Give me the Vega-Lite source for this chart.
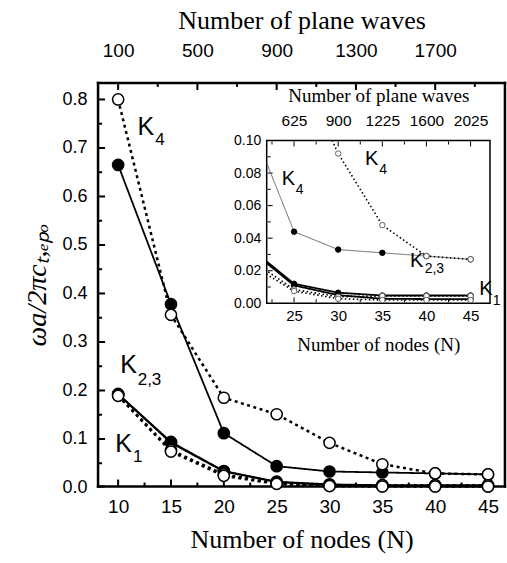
{
  "$schema": "https://vega.github.io/schema/vega-lite/v6.json",
  "width": 223.3,
  "height": 162.8,
  "autosize": "none",
  "padding": {"left": 266.7, "top": 140.5, "right": 17, "bottom": 259.7},
  "background": "white",
  "config": {
    "view": {"stroke": "black", "strokeWidth": 1.5},
    "axis": {"grid": false, "domain": false, "ticks": false, "labelFont": "Liberation Sans", "titleFont": "Liberation Serif", "titleFontWeight": "normal", "labelColor": "black", "titleColor": "black", "labelFlush": false, "labelOverlap": false}
  },
  "datasets": {
    "series": [
      {"branch": "K4", "method": "filled", "N": 10, "v": 0.665},
      {"branch": "K4", "method": "filled", "N": 15, "v": 0.378},
      {"branch": "K4", "method": "filled", "N": 20, "v": 0.112},
      {"branch": "K4", "method": "filled", "N": 25, "v": 0.044},
      {"branch": "K4", "method": "filled", "N": 30, "v": 0.033},
      {"branch": "K4", "method": "filled", "N": 35, "v": 0.031},
      {"branch": "K4", "method": "filled", "N": 40, "v": 0.029},
      {"branch": "K4", "method": "filled", "N": 45, "v": 0.027},
      {"branch": "K23", "method": "filled", "N": 10, "v": 0.193},
      {"branch": "K23", "method": "filled", "N": 15, "v": 0.094},
      {"branch": "K23", "method": "filled", "N": 20, "v": 0.034},
      {"branch": "K23", "method": "filled", "N": 25, "v": 0.012},
      {"branch": "K23", "method": "filled", "N": 30, "v": 0.0065},
      {"branch": "K23", "method": "filled", "N": 35, "v": 0.0048},
      {"branch": "K23", "method": "filled", "N": 40, "v": 0.0048},
      {"branch": "K23", "method": "filled", "N": 45, "v": 0.0048},
      {"branch": "K1", "method": "filled", "N": 10, "v": 0.192},
      {"branch": "K1", "method": "filled", "N": 15, "v": 0.092},
      {"branch": "K1", "method": "filled", "N": 20, "v": 0.033},
      {"branch": "K1", "method": "filled", "N": 25, "v": 0.011},
      {"branch": "K1", "method": "filled", "N": 30, "v": 0.005},
      {"branch": "K1", "method": "filled", "N": 35, "v": 0.0028},
      {"branch": "K1", "method": "filled", "N": 40, "v": 0.0026},
      {"branch": "K1", "method": "filled", "N": 45, "v": 0.0025},
      {"branch": "K4", "method": "open", "N": 10, "v": 0.8},
      {"branch": "K4", "method": "open", "N": 15, "v": 0.356},
      {"branch": "K4", "method": "open", "N": 20, "v": 0.185},
      {"branch": "K4", "method": "open", "N": 25, "v": 0.151},
      {"branch": "K4", "method": "open", "N": 30, "v": 0.092},
      {"branch": "K4", "method": "open", "N": 35, "v": 0.048},
      {"branch": "K4", "method": "open", "N": 40, "v": 0.029},
      {"branch": "K4", "method": "open", "N": 45, "v": 0.027},
      {"branch": "K23", "method": "open", "N": 10, "v": 0.19},
      {"branch": "K23", "method": "open", "N": 15, "v": 0.077},
      {"branch": "K23", "method": "open", "N": 20, "v": 0.027},
      {"branch": "K23", "method": "open", "N": 25, "v": 0.0085},
      {"branch": "K23", "method": "open", "N": 30, "v": 0.004},
      {"branch": "K23", "method": "open", "N": 35, "v": 0.0045},
      {"branch": "K23", "method": "open", "N": 40, "v": 0.0045},
      {"branch": "K23", "method": "open", "N": 45, "v": 0.0045},
      {"branch": "K1", "method": "open", "N": 10, "v": 0.189},
      {"branch": "K1", "method": "open", "N": 15, "v": 0.074},
      {"branch": "K1", "method": "open", "N": 20, "v": 0.024},
      {"branch": "K1", "method": "open", "N": 25, "v": 0.0075},
      {"branch": "K1", "method": "open", "N": 30, "v": 0.0028},
      {"branch": "K1", "method": "open", "N": 35, "v": 0.002},
      {"branch": "K1", "method": "open", "N": 40, "v": 0.002},
      {"branch": "K1", "method": "open", "N": 45, "v": 0.002}
    ],
    "labels": [
      {"panel": "main", "part": "base", "text": "K", "N": 11.83, "v": 0.727},
      {"panel": "main", "part": "sub", "text": "4", "N": 13.5, "v": 0.706},
      {"panel": "main", "part": "base", "text": "K", "N": 10.19, "v": 0.2355},
      {"panel": "main", "part": "sub", "text": "2,3", "N": 11.85, "v": 0.2113},
      {"panel": "main", "part": "base", "text": "K", "N": 9.72, "v": 0.0738},
      {"panel": "main", "part": "sub", "text": "1", "N": 11.4, "v": 0.0532},
      {"panel": "inset", "part": "base", "text": "K", "N": 23.6, "v": 0.0727},
      {"panel": "inset", "part": "sub", "text": "4", "N": 25.2, "v": 0.0671},
      {"panel": "inset", "part": "base", "text": "K", "N": 33.03, "v": 0.085},
      {"panel": "inset", "part": "sub", "text": "4", "N": 34.65, "v": 0.0794},
      {"panel": "inset", "part": "base", "text": "K", "N": 38.13, "v": 0.0225},
      {"panel": "inset", "part": "sub", "text": "2,3", "N": 39.8, "v": 0.0184},
      {"panel": "inset", "part": "base", "text": "K", "N": 45.98, "v": 0.0051},
      {"panel": "inset", "part": "sub", "text": "1", "N": 47.5, "v": -0.001}
    ],
    "outline": [
      {"edge": "bottom", "N": 8.1, "v": 0.002},
      {"edge": "bottom", "N": 46.6, "v": 0.002},
      {"edge": "top", "N": 8.1, "v": 0.834},
      {"edge": "top", "N": 46.6, "v": 0.834},
      {"edge": "left", "N": 8.1, "v": 0.002},
      {"edge": "left", "N": 8.1, "v": 0.834},
      {"edge": "right", "N": 46.6, "v": 0.002},
      {"edge": "right", "N": 46.6, "v": 0.834}
    ],
    "marks": [
      {"grp": "mx", "k": "major", "pos": 10}, {"grp": "mx", "k": "minor", "pos": 12.5},
      {"grp": "mx", "k": "major", "pos": 15}, {"grp": "mx", "k": "minor", "pos": 17.5},
      {"grp": "mx", "k": "major", "pos": 20}, {"grp": "mx", "k": "minor", "pos": 22.5},
      {"grp": "mx", "k": "major", "pos": 25}, {"grp": "mx", "k": "minor", "pos": 27.5},
      {"grp": "mx", "k": "major", "pos": 30}, {"grp": "mx", "k": "minor", "pos": 32.5},
      {"grp": "mx", "k": "major", "pos": 35}, {"grp": "mx", "k": "minor", "pos": 37.5},
      {"grp": "mx", "k": "major", "pos": 40}, {"grp": "mx", "k": "minor", "pos": 42.5},
      {"grp": "mx", "k": "major", "pos": 45},
      {"grp": "mt", "k": "major", "pos": 10}, {"grp": "mt", "k": "minor", "pos": 13.75},
      {"grp": "mt", "k": "major", "pos": 17.5}, {"grp": "mt", "k": "minor", "pos": 21.25},
      {"grp": "mt", "k": "major", "pos": 25}, {"grp": "mt", "k": "minor", "pos": 28.75},
      {"grp": "mt", "k": "major", "pos": 32.5}, {"grp": "mt", "k": "minor", "pos": 36.25},
      {"grp": "mt", "k": "major", "pos": 40}, {"grp": "mt", "k": "minor", "pos": 43.75},
      {"grp": "my", "k": "major", "pos": 0.002}, {"grp": "my", "k": "minor", "pos": 0.05},
      {"grp": "my", "k": "major", "pos": 0.1}, {"grp": "my", "k": "minor", "pos": 0.15},
      {"grp": "my", "k": "major", "pos": 0.2}, {"grp": "my", "k": "minor", "pos": 0.25},
      {"grp": "my", "k": "major", "pos": 0.3}, {"grp": "my", "k": "minor", "pos": 0.35},
      {"grp": "my", "k": "major", "pos": 0.4}, {"grp": "my", "k": "minor", "pos": 0.45},
      {"grp": "my", "k": "major", "pos": 0.5}, {"grp": "my", "k": "minor", "pos": 0.55},
      {"grp": "my", "k": "major", "pos": 0.6}, {"grp": "my", "k": "minor", "pos": 0.65},
      {"grp": "my", "k": "major", "pos": 0.7}, {"grp": "my", "k": "minor", "pos": 0.75},
      {"grp": "my", "k": "major", "pos": 0.8},
      {"grp": "ix", "k": "minor", "pos": 22.5}, {"grp": "ix", "k": "major", "pos": 25},
      {"grp": "ix", "k": "minor", "pos": 27.5}, {"grp": "ix", "k": "major", "pos": 30},
      {"grp": "ix", "k": "minor", "pos": 32.5}, {"grp": "ix", "k": "major", "pos": 35},
      {"grp": "ix", "k": "minor", "pos": 37.5}, {"grp": "ix", "k": "major", "pos": 40},
      {"grp": "ix", "k": "minor", "pos": 42.5}, {"grp": "ix", "k": "major", "pos": 45},
      {"grp": "iy", "k": "minor", "pos": 0.01},
      {"grp": "iy", "k": "major", "pos": 0.02}, {"grp": "iy", "k": "minor", "pos": 0.03},
      {"grp": "iy", "k": "major", "pos": 0.04}, {"grp": "iy", "k": "minor", "pos": 0.05},
      {"grp": "iy", "k": "major", "pos": 0.06}, {"grp": "iy", "k": "minor", "pos": 0.07},
      {"grp": "iy", "k": "major", "pos": 0.08}, {"grp": "iy", "k": "minor", "pos": 0.09}
    ]
  },
  "resolve": {
    "scale": {"x": "independent", "y": "independent", "strokeDash": "independent", "fill": "independent", "color": "independent", "strokeWidth": "independent", "stroke": "independent", "size": "independent", "shape": "independent"},
    "axis": {"x": "independent", "y": "independent"}
  },
  "layer": [
    {
      "data": {"name": "outline"},
      "mark": {"type": "line", "color": "black", "strokeWidth": 2.5, "strokeCap": "square"},
      "encoding": {
        "x": {"field": "N", "type": "quantitative", "scale": {"domain": [8, 46.7], "range": [-169.7, 239.3], "nice": false, "zero": false}, "axis": null},
        "y": {"field": "v", "type": "quantitative", "scale": {"domain": [0, 0.836], "range": [347, -58.5], "nice": false, "zero": false}, "axis": null},
        "detail": {"field": "edge"}
      }
    },
    {
      "data": {"name": "marks"},
      "transform": [{"filter": "datum.grp === 'mx'"}],
      "mark": {"type": "point", "shape": "M0,0V-2", "filled": false, "color": "black", "opacity": 1, "strokeWidth": 2},
      "encoding": {
        "x": {"field": "pos", "type": "quantitative", "scale": {"domain": [8, 46.7], "range": [-169.7, 239.3], "nice": false, "zero": false}, "axis": null},
        "y": {"datum": 0.002, "type": "quantitative", "scale": {"domain": [0, 0.836], "range": [347, -58.5], "nice": false, "zero": false}, "axis": null},
        "size": {"condition": {"test": "datum.k === 'major'", "value": 49}, "value": 16}
      }
    },
    {
      "data": {"name": "marks"},
      "transform": [{"filter": "datum.grp === 'mt'"}],
      "mark": {"type": "point", "shape": "M0,0V2", "filled": false, "color": "black", "opacity": 1, "strokeWidth": 2},
      "encoding": {
        "x": {"field": "pos", "type": "quantitative", "scale": {"domain": [8, 46.7], "range": [-169.7, 239.3], "nice": false, "zero": false}, "axis": null},
        "y": {"datum": 0.834, "type": "quantitative", "scale": {"domain": [0, 0.836], "range": [347, -58.5], "nice": false, "zero": false}, "axis": null},
        "size": {"condition": {"test": "datum.k === 'major'", "value": 49}, "value": 16}
      }
    },
    {
      "data": {"name": "marks"},
      "transform": [{"filter": "datum.grp === 'my'"}],
      "mark": {"type": "point", "shape": "M0,0H2", "filled": false, "color": "black", "opacity": 1, "strokeWidth": 2},
      "encoding": {
        "x": {"datum": 8.1, "type": "quantitative", "scale": {"domain": [8, 46.7], "range": [-169.7, 239.3], "nice": false, "zero": false}, "axis": null},
        "y": {"field": "pos", "type": "quantitative", "scale": {"domain": [0, 0.836], "range": [347, -58.5], "nice": false, "zero": false}, "axis": null},
        "size": {"condition": {"test": "datum.k === 'major'", "value": 49}, "value": 16}
      }
    },
    {
      "data": {"name": "series"},
      "mark": {"type": "line", "color": "black"},
      "encoding": {
        "x": {"field": "N", "type": "quantitative",
          "scale": {"domain": [8, 46.7], "range": [-169.7, 239.3], "nice": false, "zero": false},
          "axis": {"orient": "bottom", "offset": 184.2,
            "values": [10, 15, 20, 25, 30, 35, 40, 45],
            "labelFontSize": 19, "labelPadding": 10,
            "title": "Number of nodes (N)", "titleFontSize": 26, "titlePadding": 10}},
        "y": {"field": "v", "type": "quantitative",
          "scale": {"domain": [0, 0.836], "range": [347, -58.5], "nice": false, "zero": false},
          "axis": {"orient": "left", "offset": 169.7,
            "values": [0, 0.1, 0.2, 0.3, 0.4, 0.5, 0.6, 0.7, 0.8],
            "format": ".1f",
            "labelFontSize": 18, "labelPadding": 10,
            "title": "ωa/2πcₜ,ₑₚₒ", "titleFontSize": 28, "titleFontStyle": "italic", "titlePadding": 10}},
        "detail": {"field": "branch"},
        "strokeDash": {"field": "method", "type": "nominal", "scale": {"domain": ["filled", "open"], "range": [[1, 0], [3, 3.5]]}, "legend": null},
        "strokeWidth": {"condition": {"test": "datum.method === 'open'", "value": 2.5}, "value": 1.8}
      }
    },
    {
      "data": {"name": "series"},
      "mark": {"type": "point", "shape": "circle", "filled": true, "opacity": 1, "size": 125, "stroke": "black", "strokeWidth": 1.5},
      "encoding": {
        "x": {"field": "N", "type": "quantitative",
          "scale": {"domain": [8, 46.7], "range": [-169.7, 239.3], "nice": false, "zero": false},
          "axis": {"orient": "top", "offset": 58.5,
            "values": [10, 17.5, 25, 32.5, 40],
            "labelExpr": "format(round(100 + (datum.value-10)*160/3), 'd')",
            "labelFontSize": 19, "labelPadding": 22,
            "title": "Number of plane waves", "titleFontSize": 26, "titlePadding": 8}},
        "y": {"field": "v", "type": "quantitative",
          "scale": {"domain": [0, 0.836], "range": [347, -58.5], "nice": false, "zero": false},
          "axis": null},
        "fill": {"field": "method", "type": "nominal", "scale": {"domain": ["filled", "open"], "range": ["black", "white"]}, "legend": null}
      }
    },
    {
      "data": {"name": "labels"},
      "transform": [{"filter": "datum.panel === 'main' && datum.part === 'base'"}],
      "mark": {"type": "text", "align": "left", "baseline": "alphabetic", "font": "Liberation Sans", "fontSize": 25, "color": "black"},
      "encoding": {
        "x": {"field": "N", "type": "quantitative", "scale": {"domain": [8, 46.7], "range": [-169.7, 239.3], "nice": false, "zero": false}, "axis": null},
        "y": {"field": "v", "type": "quantitative", "scale": {"domain": [0, 0.836], "range": [347, -58.5], "nice": false, "zero": false}, "axis": null},
        "text": {"field": "text"}
      }
    },
    {
      "data": {"name": "labels"},
      "transform": [{"filter": "datum.panel === 'main' && datum.part === 'sub'"}],
      "mark": {"type": "text", "align": "left", "baseline": "alphabetic", "font": "Liberation Sans", "fontSize": 17, "color": "black"},
      "encoding": {
        "x": {"field": "N", "type": "quantitative", "scale": {"domain": [8, 46.7], "range": [-169.7, 239.3], "nice": false, "zero": false}, "axis": null},
        "y": {"field": "v", "type": "quantitative", "scale": {"domain": [0, 0.836], "range": [347, -58.5], "nice": false, "zero": false}, "axis": null},
        "text": {"field": "text"}
      }
    },
    {
      "data": {"name": "marks"},
      "transform": [{"filter": "datum.grp === 'ix'"}],
      "mark": {"type": "point", "shape": "M0,0V-2", "filled": false, "color": "black", "opacity": 1, "strokeWidth": 1},
      "encoding": {
        "x": {"field": "pos", "type": "quantitative", "scale": {"domain": [21.9, 47.2], "nice": false, "zero": false}, "axis": null},
        "y": {"datum": 0.0006, "type": "quantitative", "scale": {"domain": [0, 0.1], "nice": false, "zero": false}, "axis": null},
        "size": {"condition": {"test": "datum.k === 'major'", "value": 25}, "value": 9}
      }
    },
    {
      "data": {"name": "marks"},
      "transform": [{"filter": "datum.grp === 'ix'"}],
      "mark": {"type": "point", "shape": "M0,0V2", "filled": false, "color": "black", "opacity": 1, "strokeWidth": 1},
      "encoding": {
        "x": {"field": "pos", "type": "quantitative", "scale": {"domain": [21.9, 47.2], "nice": false, "zero": false}, "axis": null},
        "y": {"datum": 0.0994, "type": "quantitative", "scale": {"domain": [0, 0.1], "nice": false, "zero": false}, "axis": null},
        "size": {"condition": {"test": "datum.k === 'major'", "value": 25}, "value": 9}
      }
    },
    {
      "data": {"name": "marks"},
      "transform": [{"filter": "datum.grp === 'iy'"}],
      "mark": {"type": "point", "shape": "M0,0H2", "filled": false, "color": "black", "opacity": 1, "strokeWidth": 1},
      "encoding": {
        "x": {"datum": 22.01, "type": "quantitative", "scale": {"domain": [21.9, 47.2], "nice": false, "zero": false}, "axis": null},
        "y": {"field": "pos", "type": "quantitative", "scale": {"domain": [0, 0.1], "nice": false, "zero": false}, "axis": null},
        "size": {"condition": {"test": "datum.k === 'major'", "value": 25}, "value": 9}
      }
    },
    {
      "data": {"name": "series"},
      "mark": {"type": "line", "clip": true},
      "encoding": {
        "x": {"field": "N", "type": "quantitative",
          "scale": {"domain": [21.9, 47.2], "nice": false, "zero": false},
          "axis": {"orient": "bottom", "values": [25, 30, 35, 40, 45],
            "labelFontSize": 15, "labelPadding": 5,
            "title": "Number of nodes (N)", "titleFontSize": 19, "titlePadding": 12}},
        "y": {"field": "v", "type": "quantitative",
          "scale": {"domain": [0, 0.1], "nice": false, "zero": false},
          "axis": {"orient": "left",
            "values": [0, 0.02, 0.04, 0.06, 0.08, 0.1], "format": ".2f",
            "labelFontSize": 14, "labelPadding": 6,
            "title": null}},
        "detail": {"field": "branch"},
        "strokeDash": {"field": "method", "type": "nominal", "scale": {"domain": ["filled", "open"], "range": [[1, 0], [1.5, 2.5]]}, "legend": null},
        "color": {"condition": {"test": "datum.branch === 'K4' && datum.method === 'filled'", "value": "#666666"}, "value": "black"},
        "strokeWidth": {"condition": [{"test": "datum.branch === 'K4' && datum.method === 'filled'", "value": 1}, {"test": "datum.method === 'open'", "value": 1.6}], "value": 1.8}
      }
    },
    {
      "data": {"name": "series"},
      "mark": {"type": "point", "shape": "circle", "filled": true, "opacity": 1, "size": 30, "strokeWidth": 1, "clip": true},
      "encoding": {
        "x": {"field": "N", "type": "quantitative",
          "scale": {"domain": [21.9, 47.2], "nice": false, "zero": false},
          "axis": {"orient": "top",
            "values": [25, 30, 35, 40, 45],
            "labelExpr": "format(datum.value*datum.value, 'd')",
            "labelFontSize": 15.5, "labelPadding": 12,
            "title": "Number of plane waves", "titleFontSize": 19, "titlePadding": 8}},
        "y": {"field": "v", "type": "quantitative",
          "scale": {"domain": [0, 0.1], "nice": false, "zero": false},
          "axis": null},
        "fill": {"field": "method", "type": "nominal", "scale": {"domain": ["filled", "open"], "range": ["black", "white"]}, "legend": null},
        "stroke": {"condition": {"test": "datum.method === 'open'", "value": "#666666"}, "value": "black"}
      }
    },
    {
      "data": {"name": "labels"},
      "transform": [{"filter": "datum.panel === 'inset' && datum.part === 'base'"}],
      "mark": {"type": "text", "align": "left", "baseline": "alphabetic", "font": "Liberation Sans", "fontSize": 20, "color": "black"},
      "encoding": {
        "x": {"field": "N", "type": "quantitative", "scale": {"domain": [21.9, 47.2], "nice": false, "zero": false}, "axis": null},
        "y": {"field": "v", "type": "quantitative", "scale": {"domain": [0, 0.1], "nice": false, "zero": false}, "axis": null},
        "text": {"field": "text"}
      }
    },
    {
      "data": {"name": "labels"},
      "transform": [{"filter": "datum.panel === 'inset' && datum.part === 'sub'"}],
      "mark": {"type": "text", "align": "left", "baseline": "alphabetic", "font": "Liberation Sans", "fontSize": 14, "color": "black"},
      "encoding": {
        "x": {"field": "N", "type": "quantitative", "scale": {"domain": [21.9, 47.2], "nice": false, "zero": false}, "axis": null},
        "y": {"field": "v", "type": "quantitative", "scale": {"domain": [0, 0.1], "nice": false, "zero": false}, "axis": null},
        "text": {"field": "text"}
      }
    }
  ]
}
